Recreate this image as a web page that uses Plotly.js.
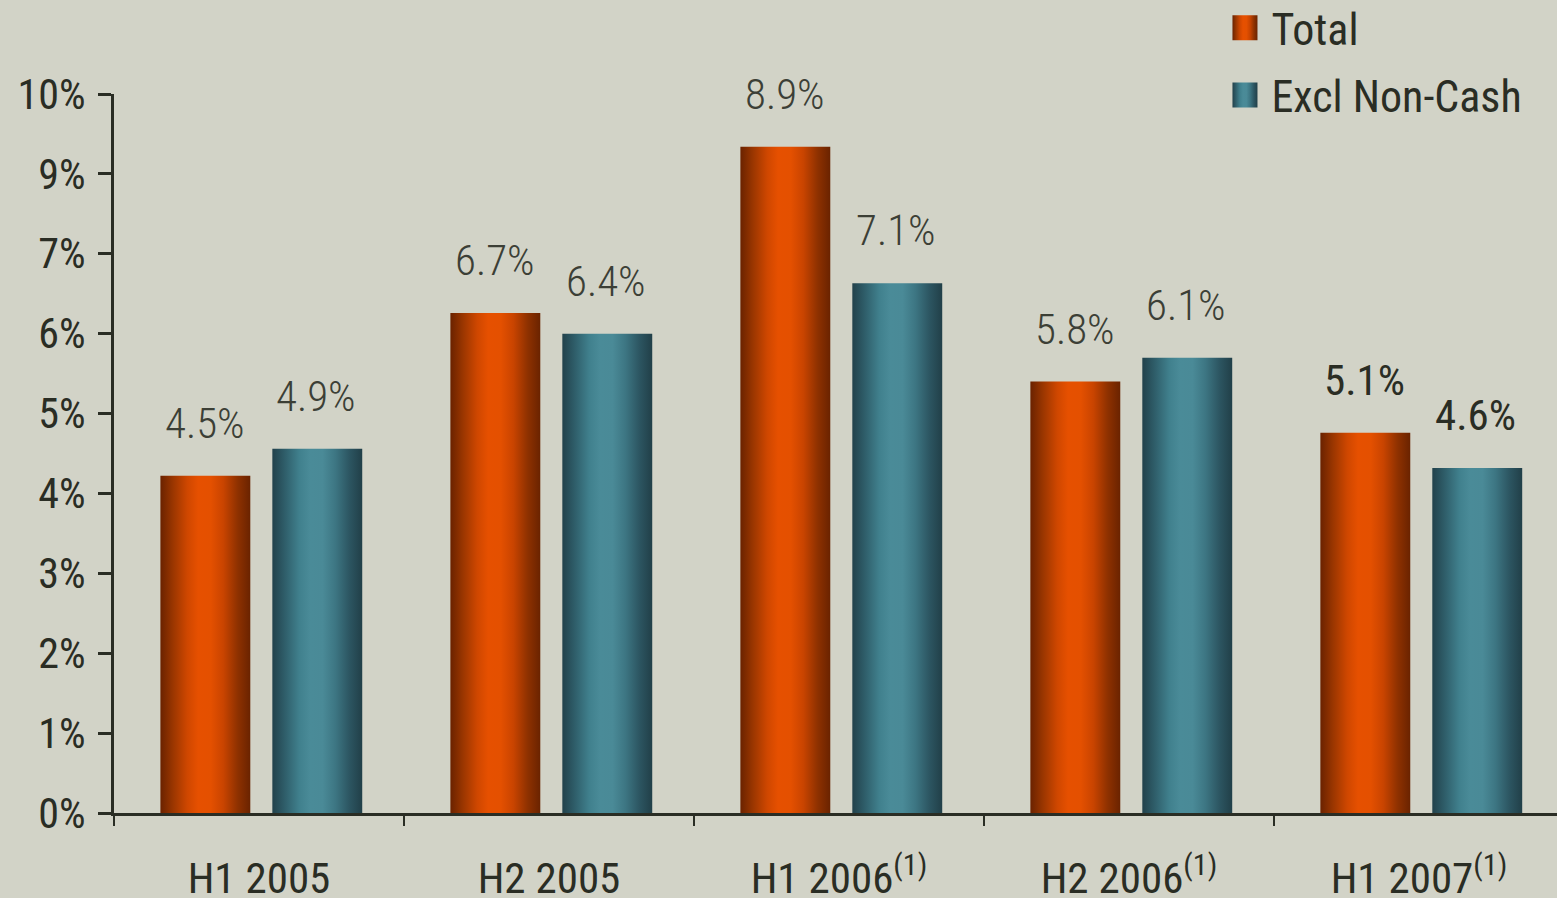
<!DOCTYPE html>
<html>
<head>
<meta charset="utf-8">
<script src="https://cdn.plot.ly/plotly-3.0.1.min.js"></script>
<style>
  html, body { margin: 0; padding: 0; background: #d2d3c7; }
  #chart { width: 1557px; height: 898px; }
</style>
</head>
<body>
<div id="chart"></div>
<script>
/* data */
const categories = ['H1 2005', 'H2 2005', 'H1 2006', 'H2 2006', 'H1 2007'];
const category_labels = ['H1 2005', 'H2 2005', 'H1 2006<sup>(1)</sup>', 'H2 2006<sup>(1)</sup>', 'H1 2007<sup>(1)</sup>'];

// bar heights in axis units (the printed axis skips 8%)
const total_heights = [4.22, 6.26, 8.34, 5.40, 4.76];
const excl_heights = [4.56, 6.00, 6.63, 5.70, 4.32];
const total_labels = ['4.5%', '6.7%', '8.9%', '5.8%', '5.1%'];
const excl_labels = ['4.9%', '6.4%', '7.1%', '6.1%', '4.6%'];

const y_tick_vals = [0, 1, 2, 3, 4, 5, 6, 7, 8, 9];
const y_tick_text = ['0%', '1%', '2%', '3%', '4%', '5%', '6%', '7%', '9%', '10%'];

/* styling */
const FONT = '"Roboto Condensed", "DejaVu Sans Condensed", sans-serif';
const INK = '#2a2d24';
const BG = '#d2d3c7';
const BAR_W = 0.31;

const make_label_annotations = (heights, labels, xshift) => heights.map((h, i) => {
  const last = i === categories.length - 1;
  return {
    x: categories[i],
    y: h,
    xref: 'x',
    yref: 'y',
    text: labels[i],
    showarrow: false,
    yanchor: 'bottom',
    xshift: xshift,
    yshift: 26,
    font: {
      family: FONT,
      size: 43,
      weight: last ? 400 : 300,
      color: last ? INK : '#3c3f36',
    },
  };
});

const traces = [
  {
    type: 'bar',
    name: 'Total',
    legendgroup: 'a',
    x: categories,
    y: total_heights,
    width: BAR_W,
    offset: -0.34,
    marker: { color: '#e05000' },
    hoverinfo: 'skip',
  },
  {
    type: 'bar',
    name: 'Excl Non-Cash',
    legendgroup: 'b',
    x: categories,
    y: excl_heights,
    width: BAR_W,
    offset: 0.046,
    marker: { color: '#478896' },
    hoverinfo: 'skip',
  },
];

const layout = {
  width: 1557,
  height: 898,
  margin: { l: 114, r: 0, t: 94, b: 85, autoexpand: false },
  paper_bgcolor: BG,
  plot_bgcolor: BG,
  font: { family: FONT, color: INK },
  barmode: 'overlay',
  showlegend: true,
  legend: {
    x: 0.7654,
    xanchor: 'left',
    y: 1.141,
    yanchor: 'top',
    bgcolor: 'rgba(0,0,0,0)',
    font: { family: FONT, size: 44, color: INK },
    itemwidth: 43,
    tracegroupgap: 7,
    itemclick: false,
    itemdoubleclick: false,
  },
  xaxis: {
    type: 'category',
    range: [-0.5, 4.476],
    tickvals: categories,
    ticktext: category_labels,
    tickson: 'boundaries',
    ticks: 'outside',
    ticklen: 10,
    tickwidth: 2,
    tickcolor: INK,
    showline: true,
    linecolor: INK,
    linewidth: 3,
    showgrid: false,
    zeroline: false,
    ticklabelstandoff: 25,
    tickfont: { family: FONT, size: 43, color: INK },
    fixedrange: true,
  },
  yaxis: {
    range: [0, 9],
    tickvals: y_tick_vals,
    ticktext: y_tick_text,
    ticks: 'outside',
    ticklen: 13,
    tickwidth: 3,
    tickcolor: INK,
    showline: true,
    linecolor: INK,
    linewidth: 3,
    showgrid: false,
    zeroline: false,
    ticklabelstandoff: 4,
    tickfont: { family: FONT, size: 42, color: INK },
    fixedrange: true,
  },
  annotations: [
    ...make_label_annotations(total_heights, total_labels, -54),
    ...make_label_annotations(excl_heights, excl_labels, 57),
  ],
};

// cylinder shading, applied to the svg after plotly draws the bars
const gradients = {
  grad_total: ['#6a2200', '#9a3600', '#cf4700', '#e65000', '#e45000', '#c94400', '#8e3100', '#6a2300'],
  grad_excl: ['#22414b', '#2f5e6a', '#40808d', '#4a8b98', '#4a8a97', '#3d7683', '#2c5561', '#213f48'],
};

const add_gradients = gd => {
  const ns = 'http://www.w3.org/2000/svg';
  const defs = gd.querySelector('svg.main-svg defs');
  for (const [id, stops] of Object.entries(gradients)) {
    const lg = document.createElementNS(ns, 'linearGradient');
    lg.setAttribute('id', id);
    lg.setAttribute('x1', '0');
    lg.setAttribute('x2', '1');
    lg.setAttribute('y1', '0');
    lg.setAttribute('y2', '0');
    const offsets = [0, 0.14, 0.3, 0.42, 0.56, 0.7, 0.86, 1];
    stops.forEach((c, i) => {
      const s = document.createElementNS(ns, 'stop');
      s.setAttribute('offset', offsets[i]);
      s.setAttribute('stop-color', c);
      lg.appendChild(s);
    });
    defs.appendChild(lg);
  }
  const ids = Object.keys(gradients);
  gd.querySelectorAll('.barlayer .trace').forEach((tr, i) => {
    tr.querySelectorAll('path').forEach(p => { p.style.fill = `url(#${ids[i]})`; });
  });
  // bigger legend squares
  gd.querySelectorAll('.legend .traces').forEach((tr, i) => {
    tr.querySelectorAll('.legendpoints path').forEach(p => {
      p.style.fill = `url(#${ids[i]})`;
      p.setAttribute('d', 'M12.5,12.5H-12.5V-12.5H12.5Z');
      p.style.stroke = 'none';
    });
  });
};

Plotly.newPlot('chart', traces, layout, { displayModeBar: false, staticPlot: true })
  .then(add_gradients);
</script>
</body>
</html>
